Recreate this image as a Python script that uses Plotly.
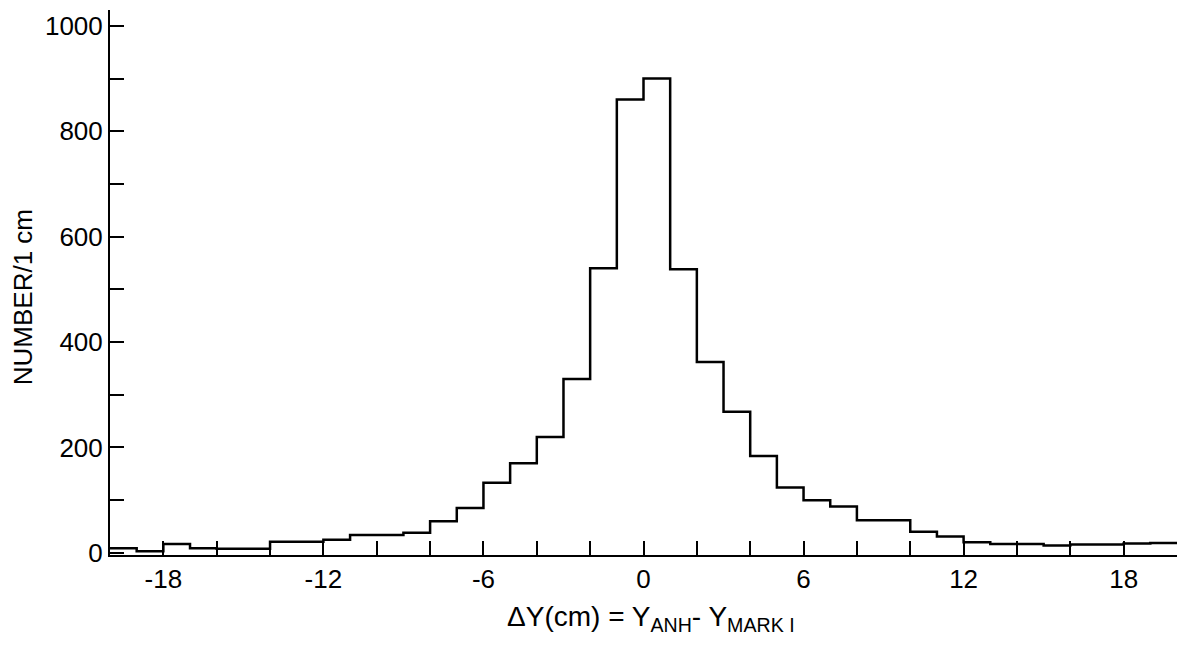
import plotly.graph_objects as go

# Histogram: 1 cm bins from -20 to +20 (left edges listed)
bin_left = list(range(-20, 20))
counts = [9, 3, 17, 9, 8, 8, 21, 21, 25, 34,
          34, 38, 60, 85, 133, 170, 220, 330, 540, 860,
          900, 538, 362, 268, 184, 124, 100, 88, 62, 62,
          40, 31, 20, 17, 17, 14, 16, 16, 18, 19]
bin_width = 1

x_label_vals = [-18, -12, -6, 0, 6, 12, 18]
y_label_vals = [0, 200, 400, 600, 800, 1000]

edges = bin_left + [bin_left[-1] + bin_width]
ys = counts + [counts[-1]]

FONT = "Liberation Sans, Arial, sans-serif"

fig = go.Figure()
fig.add_trace(go.Scatter(
    x=edges, y=ys, mode="lines", line_shape="hv",
    line=dict(color="black", width=2.5), showlegend=False, hoverinfo="skip"))

tick_common = dict(showgrid=False, zeroline=False, showline=True,
                   linecolor="black", linewidth=2, ticks="inside",
                   ticklen=14, tickwidth=2, tickcolor="black",
                   tickfont=dict(size=26))

fig.update_layout(
    width=1178, height=647,
    margin=dict(l=110, r=1, t=10, b=92),
    paper_bgcolor="white", plot_bgcolor="white",
    font=dict(family=FONT, color="black", size=26),
    xaxis=dict(
        range=[-20, 20],
        tickvals=x_label_vals,
        ticktext=[str(v) for v in x_label_vals],
        minor=dict(dtick=2, tick0=0, ticks="inside", ticklen=14,
                   tickwidth=2, tickcolor="black", showgrid=False),
        **tick_common),
    yaxis=dict(
        range=[-4, 1030],
        tickvals=y_label_vals,
        ticktext=[str(v) for v in y_label_vals],
        minor=dict(dtick=100, tick0=0, ticks="inside", ticklen=14,
                   tickwidth=2, tickcolor="black", showgrid=False),
        **tick_common),
    annotations=[
        dict(text="ΔY(cm) = Y<sub>ANH</sub>- Y<sub>MARK I</sub>",
             xref="paper", yref="paper", x=0.507, y=-0.1156,
             xanchor="center", yanchor="middle", showarrow=False,
             font=dict(size=28)),
        dict(text="NUMBER/1 cm", xref="paper", yref="paper",
             x=-0.0815, y=0.473, xanchor="center", yanchor="middle",
             textangle=-90, showarrow=False, font=dict(size=26)),
    ],
)

fig.write_html("out.html")
